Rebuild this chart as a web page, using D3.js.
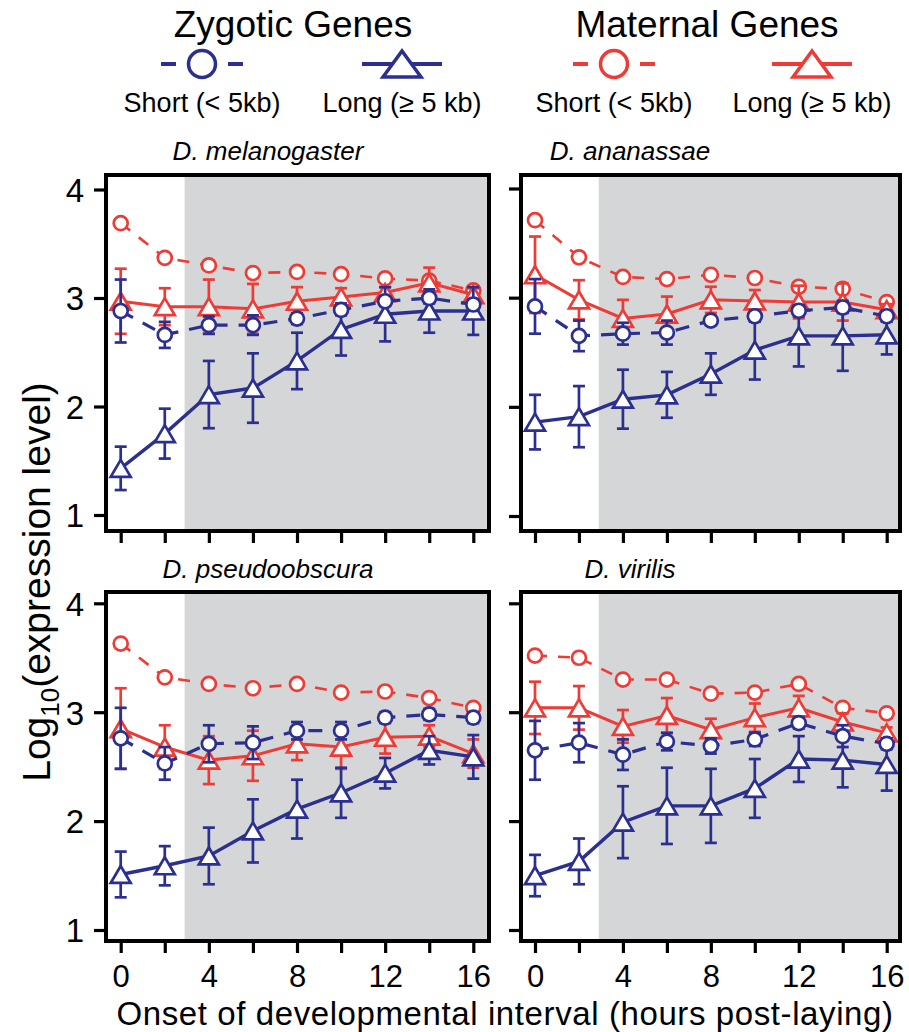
<!DOCTYPE html>
<html>
<head>
<meta charset="utf-8">
<script src="https://cdn.jsdelivr.net/npm/d3@7"></script>
<style>
  body { margin: 0; background: #fff; }
  text { font-family: "Liberation Sans", Arial, sans-serif; fill: #000; }
</style>
</head>
<body>
<script>
var W = 909, H = 1032;

var hours = [0, 2, 4, 6, 8, 10, 12, 14, 16];
var species = ["D. melanogaster", "D. ananassae", "D. pseudoobscura", "D. virilis"];
var yTicks = [1, 2, 3, 4];
var xTicks = [0, 2, 4, 6, 8, 10, 12, 14, 16];
var xTickLabels = [0, 4, 8, 12, 16];
var shadeStart = 2.9;

// zygotic short (blue circles)
var zygShort = [
  [2.88, 2.66, 2.75, 2.75, 2.81, 2.89, 2.97, 3.00, 2.94],
  [2.92, 2.65, 2.67, 2.68, 2.79, 2.83, 2.88, 2.91, 2.83],
  [2.76, 2.53, 2.71, 2.72, 2.83, 2.83, 2.95, 2.98, 2.95],
  [2.65, 2.72, 2.61, 2.73, 2.69, 2.75, 2.90, 2.78, 2.71]
];
var zygShortErr = [
  [0.29, 0.12, 0.08, 0.09, 0.05, 0.05, 0.04, 0.05, 0.05],
  [0.25, 0.14, 0.10, 0.11, 0.04, 0.05, 0.05, 0.05, 0.05],
  [0.28, 0.15, 0.17, 0.15, 0.08, 0.08, 0.05, 0.05, 0.05],
  [0.27, 0.18, 0.14, 0.08, 0.07, 0.06, 0.05, 0.10, 0.05]
];
// zygotic long (blue triangles)
var zygLong = [
  [1.43, 1.75, 2.11, 2.17, 2.42, 2.71, 2.85, 2.88, 2.88],
  [1.86, 1.91, 2.07, 2.11, 2.30, 2.52, 2.65, 2.65, 2.66],
  [1.51, 1.59, 1.68, 1.91, 2.11, 2.26, 2.44, 2.65, 2.59],
  [1.50, 1.63, 1.99, 2.14, 2.14, 2.30, 2.57, 2.56, 2.52]
];
var zygLongErr = [
  [0.20, 0.23, 0.31, 0.32, 0.26, 0.24, 0.25, 0.20, 0.22],
  [0.25, 0.28, 0.27, 0.21, 0.19, 0.27, 0.28, 0.32, 0.18],
  [0.21, 0.18, 0.26, 0.29, 0.27, 0.23, 0.14, 0.13, 0.20],
  [0.19, 0.21, 0.33, 0.35, 0.34, 0.27, 0.21, 0.25, 0.24]
];
// maternal short (red circles)
var matShort = [
  [3.69, 3.37, 3.30, 3.23, 3.24, 3.22, 3.18, 3.16, 3.07],
  [3.71, 3.37, 3.19, 3.17, 3.21, 3.18, 3.10, 3.08, 2.96],
  [3.63, 3.32, 3.26, 3.22, 3.26, 3.18, 3.19, 3.13, 3.04],
  [3.52, 3.50, 3.30, 3.30, 3.17, 3.18, 3.26, 3.04, 2.99]
];
// maternal long (red triangles)
var matLong = [
  [2.97, 2.92, 2.92, 2.90, 2.97, 3.01, 3.05, 3.14, 3.03],
  [3.21, 2.98, 2.81, 2.85, 2.98, 2.97, 2.96, 2.96, 2.89],
  [2.85, 2.68, 2.56, 2.60, 2.71, 2.68, 2.77, 2.78, 2.62],
  [3.04, 3.04, 2.87, 2.97, 2.84, 2.95, 3.04, 2.91, 2.81]
];
var matLongErr = [
  [0.30, 0.17, 0.25, 0.23, 0.13, 0.08, 0.05, 0.14, 0.06],
  [0.35, 0.18, 0.17, 0.16, 0.12, 0.10, 0.15, 0.17, 0.05],
  [0.37, 0.20, 0.22, 0.23, 0.15, 0.20, 0.15, 0.10, 0.13],
  [0.24, 0.20, 0.15, 0.16, 0.10, 0.13, 0.11, 0.08, 0.05]
];

var blue = "#2b2f8f", red = "#ee3b36", shade = "#d5d6d8";

var panels = [
  {x0: 106, x1: 489, y0: 175, y1: 531, xa: 120.7, xb: 473.3, ya: 515, yb: 189.5, tx: 268, ty: 160},
  {x0: 521, x1: 900, y0: 175, y1: 531, xa: 535, xb: 886.7, ya: 516, yb: 188.5, tx: 630, ty: 160},
  {x0: 106, x1: 489, y0: 592, y1: 941, xa: 120.7, xb: 473.3, ya: 930, yb: 603.3, tx: 268, ty: 578},
  {x0: 521, x1: 900, y0: 592, y1: 941, xa: 535, xb: 886.7, ya: 930, yb: 603.3, tx: 630, ty: 578}
];

var svg = d3.select("body").append("svg")
    .attr("width", W)
    .attr("height", H);

function triPath(w, h) {
  return "M0," + (-h / 2) + "L" + (w / 2) + "," + (h / 2) + "L" + (-w / 2) + "," + (h / 2) + "Z";
}

panels.forEach(function(p, k) {
  var x = d3.scaleLinear().domain([0, 16]).range([p.xa, p.xb]);
  var y = d3.scaleLinear().domain([1, 4]).range([p.ya, p.yb]);
  var g = svg.append("g");

  // grey region
  g.append("rect")
    .attr("x", x(shadeStart)).attr("y", p.y0)
    .attr("width", p.x1 - x(shadeStart)).attr("height", p.y1 - p.y0)
    .attr("fill", shade);

  // axes
  var yAxis = d3.axisLeft(y).tickValues(yTicks).tickSize(12).tickFormat(k % 2 == 0 ? d3.format("d") : "");
  var ya = g.append("g").attr("transform", "translate(" + p.x0 + ",0)").call(yAxis);
  var xAxis = d3.axisBottom(x).tickValues(xTicks).tickSize(12)
      .tickFormat(function(d) { return (k >= 2 && xTickLabels.indexOf(d) >= 0) ? d : ""; });
  var xa = g.append("g").attr("transform", "translate(0," + p.y1 + ")").call(xAxis);
  [ya, xa].forEach(function(a) {
    a.select(".domain").remove();
    a.selectAll(".tick line").attr("stroke", "#000").attr("stroke-width", 3.2);
    a.selectAll(".tick text").style("font-size", "33px").attr("fill", "#000");
  });
  ya.selectAll(".tick text").attr("x", -22).attr("dy", "0.36em");
  xa.selectAll(".tick text").style("font-size", "31px").attr("y", 46).attr("dy", 0);

  // series
  var series = [
    {v: matShort[k], e: null, c: red, dash: "12,11", shape: "circle", w: 2.6},
    {v: matLong[k], e: matLongErr[k], c: red, dash: null, shape: "tri", w: 3},
    {v: zygLong[k], e: zygLongErr[k], c: blue, dash: null, shape: "tri", w: 3.4},
    {v: zygShort[k], e: zygShortErr[k], c: blue, dash: "14,11", shape: "circle", w: 3.2}
  ];
  series.forEach(function(s) {
    var pts = hours.map(function(h, i) { return {h: h, v: s.v[i], e: s.e ? s.e[i] : 0}; });
    var sg = g.append("g");
    if (s.e) {
      var eb = sg.selectAll(".eb").data(pts).enter().append("g");
      eb.append("line")
        .attr("x1", function(d) { return x(d.h); }).attr("x2", function(d) { return x(d.h); })
        .attr("y1", function(d) { return y(d.v - d.e); }).attr("y2", function(d) { return y(d.v + d.e); })
        .attr("stroke", s.c).attr("stroke-width", 2.7);
      [-1, 1].forEach(function(sgn) {
        eb.append("line")
          .attr("x1", function(d) { return x(d.h) - 6; }).attr("x2", function(d) { return x(d.h) + 6; })
          .attr("y1", function(d) { return y(d.v + sgn * d.e); }).attr("y2", function(d) { return y(d.v + sgn * d.e); })
          .attr("stroke", s.c).attr("stroke-width", 2.7);
      });
    }
    sg.append("path")
      .datum(pts)
      .attr("d", d3.line().x(function(d) { return x(d.h); }).y(function(d) { return y(d.v); }))
      .attr("fill", "none").attr("stroke", s.c).attr("stroke-width", s.w)
      .attr("stroke-dasharray", s.dash);
    if (s.shape == "circle") {
      sg.selectAll("circle").data(pts).enter().append("circle")
        .attr("cx", function(d) { return x(d.h); }).attr("cy", function(d) { return y(d.v); })
        .attr("r", 7).attr("fill", "#fff").attr("stroke", s.c).attr("stroke-width", 2.7);
    } else {
      sg.selectAll(".m").data(pts).enter().append("path")
        .attr("transform", function(d) { return "translate(" + x(d.h) + "," + y(d.v) + ")"; })
        .attr("d", triPath(20, 17)).attr("fill", "#fff").attr("stroke", s.c).attr("stroke-width", 2.7)
        .attr("stroke-linejoin", "miter");
    }
  });

  // frame
  g.append("rect")
    .attr("x", p.x0).attr("y", p.y0)
    .attr("width", p.x1 - p.x0).attr("height", p.y1 - p.y0)
    .attr("fill", "none").attr("stroke", "#000").attr("stroke-width", 4);

  g.append("text")
    .attr("x", p.tx).attr("y", p.ty)
    .attr("text-anchor", "middle")
    .style("font-size", "26px").style("font-style", "italic")
    .text(species[k]);
});

// axis titles
var yl = svg.append("text")
  .attr("transform", "translate(50,582) rotate(-90)")
  .attr("text-anchor", "middle")
  .style("font-size", "39px");
yl.append("tspan").text("Log");
yl.append("tspan").attr("dy", 9).style("font-size", "26px").text("10");
yl.append("tspan").attr("dy", -9).text("(expression level)");

svg.append("text")
  .attr("x", 505).attr("y", 1025)
  .attr("text-anchor", "middle")
  .style("font-size", "33px")
  .style("letter-spacing", "0.6px")
  .text("Onset of developmental interval (hours post-laying)");

// legend
var groups = ["Zygotic Genes", "Maternal Genes"];
var groupX = [293, 707];
var legendItems = [
  {label: "Short (< 5kb)", c: blue, shape: "circle", x: 202},
  {label: "Long (\u2265 5 kb)", c: blue, shape: "tri", x: 402},
  {label: "Short (< 5kb)", c: red, shape: "circle", x: 614},
  {label: "Long (\u2265 5 kb)", c: red, shape: "tri", x: 812}
];
groups.forEach(function(t, i) {
  svg.append("text").attr("x", groupX[i]).attr("y", 37)
    .attr("text-anchor", "middle").style("font-size", "37px").text(t);
});
var lg = svg.selectAll(".leg").data(legendItems).enter().append("g")
  .attr("transform", function(d) { return "translate(" + d.x + ",64)"; });
lg.each(function(d) {
  var s = d3.select(this);
  if (d.shape == "circle") {
    s.append("line").attr("x1", -41).attr("x2", -26).attr("stroke", d.c).attr("stroke-width", 4);
    s.append("line").attr("x1", 26).attr("x2", 41).attr("stroke", d.c).attr("stroke-width", 4);
    s.append("circle").attr("r", 13.5).attr("fill", "#fff").attr("stroke", d.c).attr("stroke-width", 3.5);
  } else {
    s.append("line").attr("x1", -40).attr("x2", 40).attr("stroke", d.c).attr("stroke-width", 4);
    s.append("path").attr("d", triPath(38, 26)).attr("fill", "#fff").attr("stroke", d.c).attr("stroke-width", 3.5);
  }
  s.append("text").attr("y", 48).attr("text-anchor", "middle").style("font-size", "27px").text(d.label);
});
</script>
</body>
</html>
